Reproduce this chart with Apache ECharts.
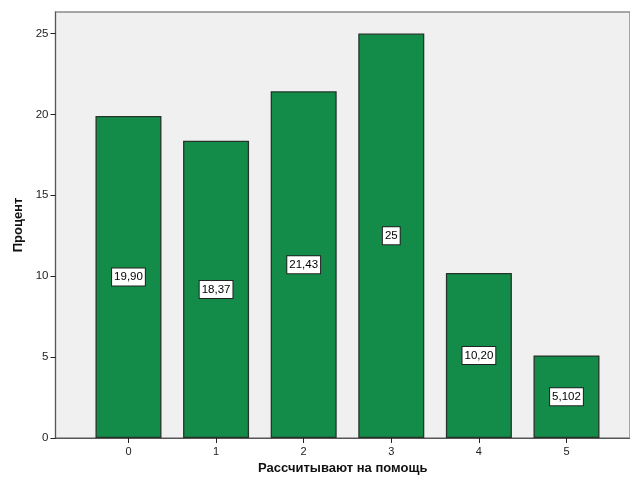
<!DOCTYPE html>
<html><head><meta charset="utf-8">
<script src="https://cdn.jsdelivr.net/npm/echarts@6/dist/echarts.min.js"></script>
<style>html,body{margin:0;padding:0;background:#fff}#c{width:630px;height:484px}</style>
</head><body><div id="c"></div>
<script>
const categories = [0, 1, 2, 3, 4, 5];
const values = [19.90, 18.37, 21.43, 25, 10.20, 5.102];
const valueLabels = ['19,90', '18,37', '21,43', '25', '10,20', '5,102'];
const yTicks = [0, 5, 10, 15, 20, 25];

const data = categories.map((c, i) => ({ value: [c, values[i]], labelText: valueLabels[i] }));
const chart = echarts.init(document.getElementById('c'), null, { renderer: 'canvas' });
chart.setOption({
  animation: false,
  grid: { left: 55.5, right: 0, top: 12, bottom: 46, show: true, backgroundColor: '#f0f0f0', borderColor: '#8a8a8a', borderWidth: 1.5 },
  xAxis: {
    type: 'value', min: -0.833, max: 5.725,
    name: 'Рассчитывают на помощь', nameLocation: 'middle', nameGap: 20,
    nameTextStyle: { fontFamily: 'Liberation Sans', fontWeight: 'bold', fontSize: 13, color: '#111' },
    splitLine: { show: false },
    axisLine: { show: true, onZero: false, lineStyle: { color: '#555', width: 1 } },
    axisTick: { show: true, customValues: categories, length: 5, lineStyle: { color: '#222' } },
    axisLabel: { customValues: categories, fontFamily: 'Liberation Sans', fontSize: 11, color: '#222', margin: 8 }
  },
  yAxis: {
    type: 'value', min: 0, max: 26.33,
    name: 'Процент', nameLocation: 'middle', nameGap: 31, nameRotate: 90,
    nameTextStyle: { fontFamily: 'Liberation Sans', fontWeight: 'bold', fontSize: 13, color: '#111' },
    splitLine: { show: false },
    axisLine: { show: true, onZero: false, lineStyle: { color: '#555', width: 1 } },
    axisTick: { show: true, customValues: yTicks, length: 5, lineStyle: { color: '#222' } },
    axisLabel: { customValues: yTicks, fontFamily: 'Liberation Sans', fontSize: 11.5, color: '#222', margin: 7 }
  },
  series: [{
    type: 'bar', data: data, barWidth: 66,
    itemStyle: { color: '#128c48', borderColor: '#253328', borderWidth: 1.3 },
    label: {
      show: true, position: 'inside',
      formatter: p => p.data.labelText,
      fontFamily: 'Liberation Sans', fontSize: 11.5, color: '#000',
      backgroundColor: '#fff', borderColor: '#222', borderWidth: 1, padding: [3, 2, 2, 2]
    }
  }]
});
</script></body></html>
